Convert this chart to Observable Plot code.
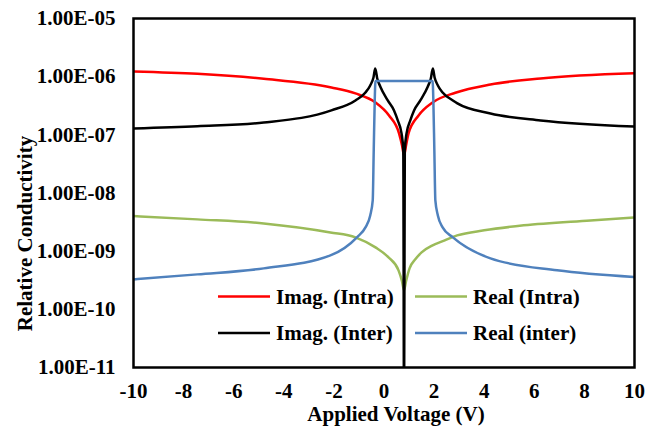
<!DOCTYPE html>
<html>
<head>
<meta charset="utf-8">
<script src="https://cdn.jsdelivr.net/npm/d3@7"></script>
<script src="https://cdn.jsdelivr.net/npm/@observablehq/plot@0.6"></script>
<style>
  html, body { margin: 0; padding: 0; background: #fff; }
  #chart { position: relative; width: 654px; height: 427px; }
</style>
</head>
<body>
<div id="chart"></div>
<script>
// ---- Data ----
const xTicks = [-10, -8, -6, -4, -2, 0, 2, 4, 6, 8, 10];
const yTicks = [1e-11, 1e-10, 1e-9, 1e-8, 1e-7, 1e-6, 1e-5];

const seriesNames = ["Imag. (Intra)", "Real (Intra)", "Imag. (Inter)", "Real (inter)"];
const seriesColors = ["#FF0000", "#9BBB59", "#000000", "#4F81BD"];

// Imag. (Intra)
const imagIntraV = [-10, -7.45, -4.8, -2.1, -1.14, -0.34, 0.2, 0.6, 0.72, 0.8, 0.88, 0.98, 1.38, 1.94, 2.85, 4.25, 6.25, 10];
const imagIntraS = [1.23e-6, 1.12e-6, 9.2e-7, 6.52e-7, 5.15e-7, 3.6e-7, 2.15e-7, 1.06e-7, 6.58e-8, 4.43e-8, 6.58e-8, 1.06e-7, 2.15e-7, 3.6e-7, 5.3e-7, 7.34e-7, 9.3e-7, 1.14e-6];

// Real (Intra)
const realIntraV = [-10, -7.45, -4.8, -2.14, -1.14, -0.34, 0.18, 0.58, 0.72, 0.8, 0.88, 1.02, 1.25, 1.5, 1.94, 2.32, 2.92, 4.0, 5.58, 8.24, 10];
const realIntraS = [4.01e-9, 3.52e-9, 3.0e-9, 2.1e-9, 1.73e-9, 1.16e-9, 7.82e-10, 4.68e-10, 3.03e-10, 2.12e-10, 3.03e-10, 5.06e-10, 7.23e-10, 9.53e-10, 1.26e-9, 1.47e-9, 1.87e-9, 2.28e-9, 2.78e-9, 3.38e-9, 3.81e-9];

// Imag. (Inter)
const imagInterV = [-10, -7.45, -4.8, -2.1, -1.14, -0.74, -0.55, -0.42, -0.35, -0.27, -0.15, 0.15, 0.4, 0.55, 0.7, 0.77, 0.8, 0.83, 0.9, 1.05, 1.2, 1.45, 1.75, 1.87, 1.95, 2.02, 2.15, 2.34, 2.75, 2.93, 4.25, 6.25, 10];
const imagInterS = [1.29e-7, 1.41e-7, 1.63e-7, 2.63e-7, 3.9e-7, 5.35e-7, 7.06e-7, 9.7e-7, 1.38e-6, 9.3e-7, 6.79e-7, 3.9e-7, 2.63e-7, 1.77e-7, 1.06e-7, 5.4e-8, 1e-12, 5.4e-8, 1.06e-7, 1.77e-7, 2.63e-7, 3.9e-7, 6.79e-7, 9.3e-7, 1.38e-6, 9.7e-7, 7.06e-7, 5.35e-7, 3.9e-7, 3.47e-7, 2.33e-7, 1.77e-7, 1.39e-7];

// Real (inter)
const realInterV = [-10, -7.45, -4.8, -2.14, -1.07, -0.74, -0.55, -0.45, -0.41, -0.37, -0.34, 0.8, 1.94, 1.97, 2.01, 2.05, 2.15, 2.34, 2.75, 4.25, 6.91, 10];
const realInterS = [3.27e-10, 3.99e-10, 5.06e-10, 8.47e-10, 1.75e-9, 2.56e-9, 4.12e-9, 7.46e-9, 5.4e-8, 3.9e-7, 8.43e-7, 8.43e-7, 8.43e-7, 3.9e-7, 5.4e-8, 7.46e-9, 4.12e-9, 2.56e-9, 1.73e-9, 7.52e-10, 4.68e-10, 3.59e-10];

const seriesV = [imagIntraV, realIntraV, imagInterV, realInterV];
const seriesS = [imagIntraS, realIntraS, imagInterS, realInterS];

// ---- Build table ----
const rows = [];
seriesNames.forEach((name, i) => {
  seriesV[i].forEach((v, j) => rows.push({series: name, V: v, S: seriesS[i][j]}));
});

const fmtY = d => {
  const [m, e] = d.toExponential(2).split("e");
  const n = parseInt(e, 10);
  return m + "E" + (n < 0 ? "-" : "+") + String(Math.abs(n)).padStart(2, "0");
};
const fmtX = d => String(d);

const FONT = "'Liberation Serif', 'Times New Roman', serif";

const plot = Plot.plot({
  width: 654,
  height: 427,
  marginLeft: 133,
  marginRight: 20,
  marginTop: 18,
  marginBottom: 60,
  style: {fontFamily: FONT, fontSize: "21px", fontWeight: "bold", color: "#000", background: "#fff"},
  x: {domain: [-10, 10], label: null},
  y: {type: "log", domain: [1e-11, 1e-5], label: null},
  marks: [
    ...seriesNames.map((name, i) =>
      Plot.line(rows.filter(r => r.series === name), {
        x: "V", y: "S", stroke: seriesColors[i], strokeWidth: 2.5,
        curve: "monotone-x", clip: true
      })
    ),
    Plot.frame({stroke: "#000", strokeWidth: 2.5}),
    Plot.axisX({ticks: xTicks, tickFormat: fmtX, tickSize: 0, tickPadding: 16, label: null,
      fontSize: 21, fontWeight: "bold"}),
    Plot.axisY({ticks: yTicks, tickFormat: fmtY, tickSize: 0, tickPadding: 18, label: null,
      fontSize: 21, fontWeight: "bold"})
  ]
});

document.getElementById("chart").appendChild(plot);

// ---- Titles and legend ----
const svg = d3.select(plot);
svg.append("text")
  .attr("x", 396).attr("y", 421)
  .attr("text-anchor", "middle")
  .attr("font-family", FONT).attr("font-size", 21).attr("font-weight", "bold")
  .attr("fill", "#000")
  .text("Applied Voltage (V)");

svg.append("text")
  .attr("transform", "translate(31.5,233.5) rotate(-90)")
  .attr("text-anchor", "middle")
  .attr("font-family", FONT).attr("font-size", 21).attr("font-weight", "bold")
  .attr("fill", "#000")
  .text("Relative Conductivity");

const legendPos = [
  {lx: 218, ly: 296.5}, {lx: 415, ly: 296.5},
  {lx: 218, ly: 333}, {lx: 415, ly: 333}
];
const lg = svg.append("g");
seriesNames.forEach((name, i) => {
  const p = legendPos[i];
  lg.append("line")
    .attr("x1", p.lx).attr("x2", p.lx + 52)
    .attr("y1", p.ly).attr("y2", p.ly)
    .attr("stroke", seriesColors[i]).attr("stroke-width", 2.5);
  lg.append("text")
    .attr("x", p.lx + 58).attr("y", p.ly + 7.3)
    .attr("text-anchor", "start")
    .attr("font-family", FONT).attr("font-size", 21).attr("font-weight", "bold")
    .attr("fill", "#000")
    .text(name);
});
</script>
</body>
</html>
